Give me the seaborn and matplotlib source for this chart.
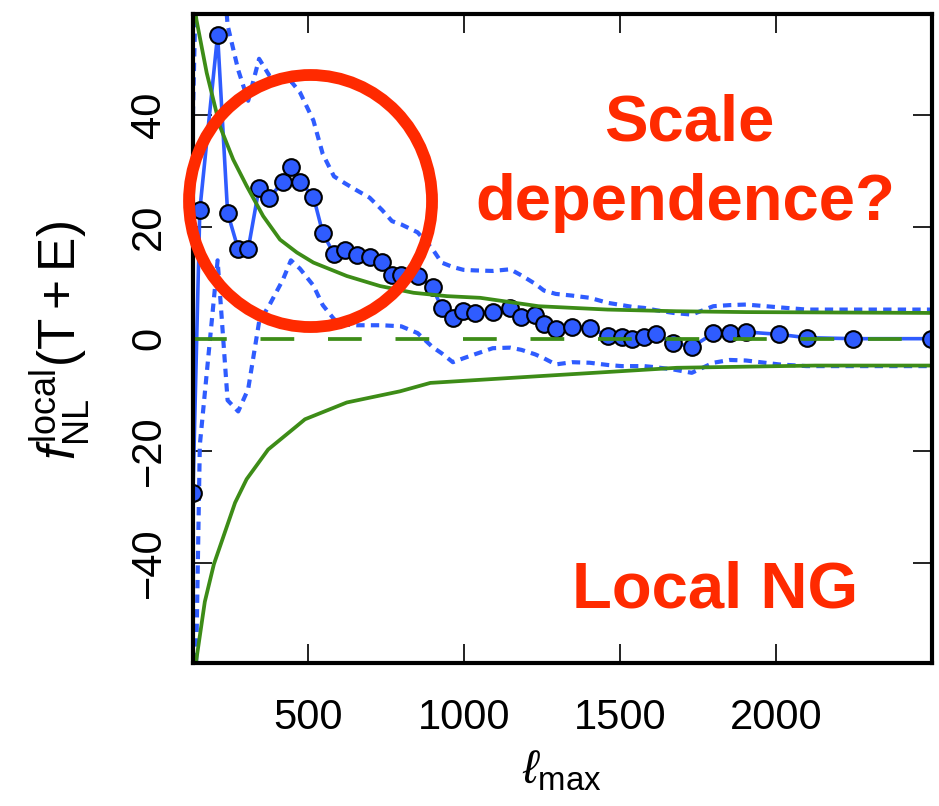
import numpy as np
import pandas as pd
import seaborn as sns
import matplotlib.pyplot as plt
from matplotlib.patches import Ellipse

# measured f_NL vs lmax
ell = [132, 154, 211, 243, 277, 309, 344, 377, 420, 446,
       475, 518, 548, 584, 618, 657, 698, 738, 770, 800,
       852, 900, 929, 965, 999, 1035, 1093, 1149, 1185, 1229,
       1257, 1295, 1347, 1404, 1462, 1506, 1539, 1578, 1615, 1672,
       1731, 1800, 1853, 1905, 2011, 2099, 2249, 2498]
fnl = [-27.5, 23, 54.3, 22.5, 16, 16, 27, 25.2, 28, 30.6,
       28, 25.4, 18.9, 15.1, 15.8, 14.9, 14.6, 13.7, 11.4, 11.4,
       11.2, 9.2, 5.5, 3.7, 4.9, 4.6, 4.75, 5.5, 3.9, 4.2,
       2.55, 1.66, 2.14, 1.96, 0.46, 0.36, -0.1, 0.36, 0.77, -0.7,
       -1.5, 0.95, 1.07, 1.2, 0.77, 0.18, 0.0, 0.0]
fnl_hi = [40, 95, 80, 56, 48, 42.5, 50, 47, 46, 46,
          44, 39, 33, 29, 27.8, 26.5, 25.2, 23, 21, 20.4,
          19, 16, 13.6, 12.8, 12.3, 12.2, 12.1, 12.4, 11.3, 9.8,
          8.6, 8.0, 7.7, 7.3, 6.4, 6.0, 5.7, 5.5, 5.1, 4.6,
          4.3, 5.8, 6.0, 6.1, 5.6, 5.2, 5.2, 5.2]
fnl_lo = [-92, -19, 14, -11, -13, -9, 3, 6, 10.5, 14,
          12.5, 9.5, 6, 3.5, 2.5, 2.4, 2.4, 2.4, 2.3, 2.2,
          1.0, -1.5, -2.6, -4.2, -3.5, -2.8, -1.7, -1.6, -2.0, -2.8,
          -3.5, -4.6, -4.2, -4.3, -4.7, -4.9, -4.9, -4.9, -5.1, -5.5,
          -6.1, -4.3, -3.8, -3.9, -4.6, -4.9, -4.9, -4.9]

# expected error envelope
ell_up = [132, 143, 176, 218, 261, 304, 357, 411, 465, 518, 625, 732, 839, 946, 1053, 1240, 1461, 1683, 1904, 2500]
env_up = [62, 57, 47.5, 38, 32, 27.3, 21.9, 17.7, 15.4, 13.6, 11.2, 9.4, 8.2, 7.6, 7.3, 5.8, 5.2, 4.9, 4.75, 4.6]
ell_dn = [132, 143, 170, 199, 267, 304, 373, 465, 491, 625, 796, 893, 1240, 1683, 2126, 2500]
env_dn = [-64, -57.3, -47, -40.3, -29.3, -25.1, -19.8, -15.6, -14.4, -11.4, -9.4, -7.9, -6.7, -5.2, -4.8, -4.8]

df = pd.DataFrame({"ell": ell, "fnl": fnl, "hi": fnl_hi, "lo": fnl_lo})

sns.set_theme(style="ticks")
plt.rcParams["font.family"] = ["Liberation Sans", "DejaVu Sans"]
plt.rcParams["mathtext.fontset"] = "custom"
plt.rcParams["mathtext.rm"] = "Liberation Sans"
plt.rcParams["mathtext.it"] = "Liberation Sans:italic"
plt.rcParams["mathtext.fallback"] = "stixsans"

blue = "#2f5cff"
green = "#3d8c17"
red = "#ff2a00"

fig, ax = plt.subplots(figsize=(9.39, 8.06), dpi=100)
fig.subplots_adjust(left=0.2055, right=0.9922, bottom=0.177, top=0.9826)

sns.lineplot(data=df, x="ell", y="hi", ax=ax, color=blue, linewidth=3,
             linestyle=(0, (2.0, 1.5)))
sns.lineplot(data=df, x="ell", y="lo", ax=ax, color=blue, linewidth=3,
             linestyle=(0, (2.0, 1.5)))
sns.lineplot(data=df, x="ell", y="fnl", ax=ax, color=blue, linewidth=2.6,
             marker="o", markersize=12, markerfacecolor=blue,
             markeredgecolor="black", markeredgewidth=1.5)

sns.lineplot(x=ell_up, y=env_up, ax=ax, color=green, linewidth=2.7)
sns.lineplot(x=ell_dn, y=env_dn, ax=ax, color=green, linewidth=2.7)
ax.axhline(0, color=green, linewidth=2.7, linestyle=(0, (9, 9)))

ax.set_xlim(132, 2500)
ax.set_ylim(-58, 58)
ax.set_xticks([500, 1000, 1500, 2000])
ax.set_yticks([-40, -20, 0, 20, 40])
ax.tick_params(direction="in", length=14, width=1.4, top=True, right=True,
               labelsize=30, color="#222222", labelcolor="black")
ax.tick_params(axis="x", pad=25)
ax.tick_params(axis="y", pad=17)
for lab in ax.get_yticklabels():
    lab.set_rotation(90)
    lab.set_va("center")
for s in ax.spines.values():
    s.set_linewidth(3)
    s.set_color("black")

ax.set_xlabel(r"$\ell_{\rm max}$", fontsize=34, labelpad=8, color="black")
ax.set_ylabel(r"$f_{\rm NL}^{\rm local}({\rm T+E})$", fontsize=37, color="black")
ax.yaxis.set_label_coords(-0.137, 0.497)

# annotations
fig.text(0.7338, 0.8263, "Scale", color=red, fontsize=47, fontweight="bold",
         ha="center", va="baseline")
fig.text(0.7295, 0.727, "dependence?", color=red, fontsize=47, fontweight="bold",
         ha="center", va="baseline")
fig.text(0.762, 0.2457, "Local NG", color=red, fontsize=47, fontweight="bold",
         ha="center", va="baseline")
ring = Ellipse((0.3307, 0.7506), 0.2588, 0.3127, transform=fig.transFigure,
               fill=False, edgecolor=red, lw=8.5, clip_on=False, zorder=10)
fig.patches.append(ring)

plt.savefig("out.png", dpi=100)
